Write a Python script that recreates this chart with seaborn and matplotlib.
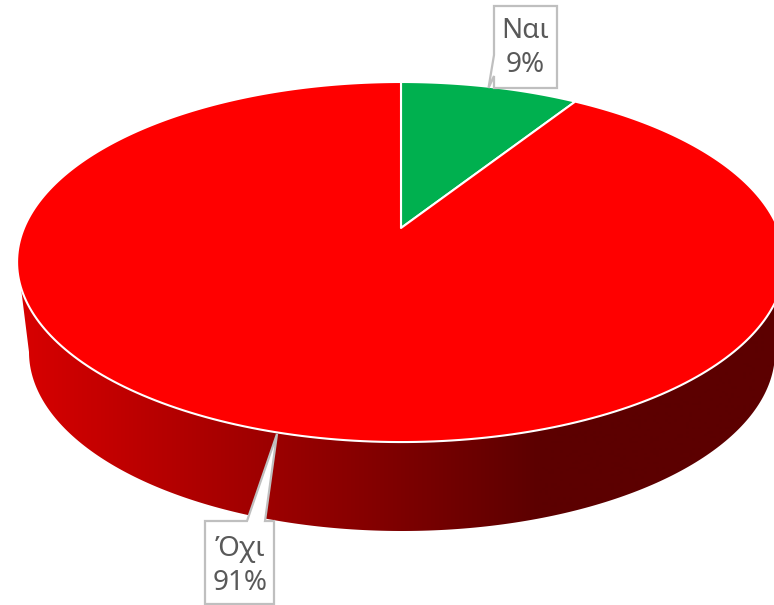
import numpy as np
import matplotlib
matplotlib.use('Agg')
import matplotlib.pyplot as plt
from matplotlib.patches import Polygon
import seaborn as sns

# chart data
categories = ['Ναι', 'Όχι']
percent_values = [9, 91]
slice_colors = ['#00B04F', '#FF0000']

# side wall shading, left to right
side_colors = ['#D80000', '#5C0000']
text_color = '#595959'
box_color = '#BFBFBF'


def project(theta):
    """Perspective projection of the unit disc (theta clockwise from 12 o'clock) to pixels."""
    u, v = np.sin(theta), np.cos(theta)
    k = 0.189
    d = 1 + k * v
    return 401 + 377 * u / d, 228 - 173.6 * v / d


def callout(ax, points, label, center):
    ax.add_patch(Polygon(points, closed=True, facecolor='white', edgecolor=box_color,
                         linewidth=1.6, joinstyle='miter', zorder=5))
    ax.text(center[0], center[1], label, ha='center', va='center', color=text_color,
            fontsize=20, linespacing=1.33, zorder=6)


sns.set_theme(style='white')
plt.rcParams['font.family'] = ['Noto Sans', 'DejaVu Sans']

fig = plt.figure(figsize=(7.74, 6.05), dpi=100)
ax = fig.add_axes([0, 0, 1, 1])

wedges, _ = ax.pie(percent_values, colors=slice_colors, startangle=90,
                   counterclock=False, frame=True)
slice_angles = [(w.theta1, w.theta2) for w in wedges]
for w in wedges:
    w.remove()

ax.set_aspect('auto')
ax.axis('off')

# side wall: top rim edge down to the lower half ellipse, with a horizontal gradient
t = np.linspace(np.pi, 0, 200)
rim_x = 402 + 373 * np.cos(t)
rim_y = 352 + 179 * np.sin(t)
side_x = np.concatenate([[19], rim_x, [784]])
side_y = np.concatenate([[272], rim_y, [272]])
side_clip = Polygon(np.column_stack([side_x, side_y]), closed=True, transform=ax.transData,
                    facecolor='none', edgecolor='none')
ax.add_patch(side_clip)
gradient = np.clip((np.arange(20, 790) - 20) / 520, 0, 1)[np.newaxis, :]
side = ax.imshow(gradient, extent=(19, 790, 605, 0), aspect='auto', zorder=1,
                 cmap=sns.blend_palette(side_colors, as_cmap=True), vmin=0, vmax=1)
side.set_clip_path(side_clip)
ax.set_xlim(0, 774)
ax.set_ylim(605, 0)

# top face, drawn from the angles the pie computed
for (a1, a2), color in zip(slice_angles, slice_colors):
    # matplotlib angles are counter-clockwise from 3 o'clock
    th = np.radians(90 - np.linspace(a1, a2, 300))
    x, y = project(th)
    x = np.concatenate([[401], x])
    y = np.concatenate([[228], y])
    ax.add_patch(Polygon(np.column_stack([x, y]), closed=True, facecolor=color,
                         edgecolor='white', linewidth=1.5, joinstyle='round', zorder=3))

labels = [f'{c}\n{v}%' for c, v in zip(categories, percent_values)]
callout(ax, [(494, 6), (557, 6), (557, 88), (494, 88), (494, 76), (488.5, 88), (494, 55)],
        labels[0], (525, 48))
callout(ax, [(205, 521), (247, 521), (277, 434), (265, 521), (274, 521), (274, 604), (205, 604)],
        labels[1], (240, 566))

fig.savefig('out.png', dpi=100, facecolor='white')
